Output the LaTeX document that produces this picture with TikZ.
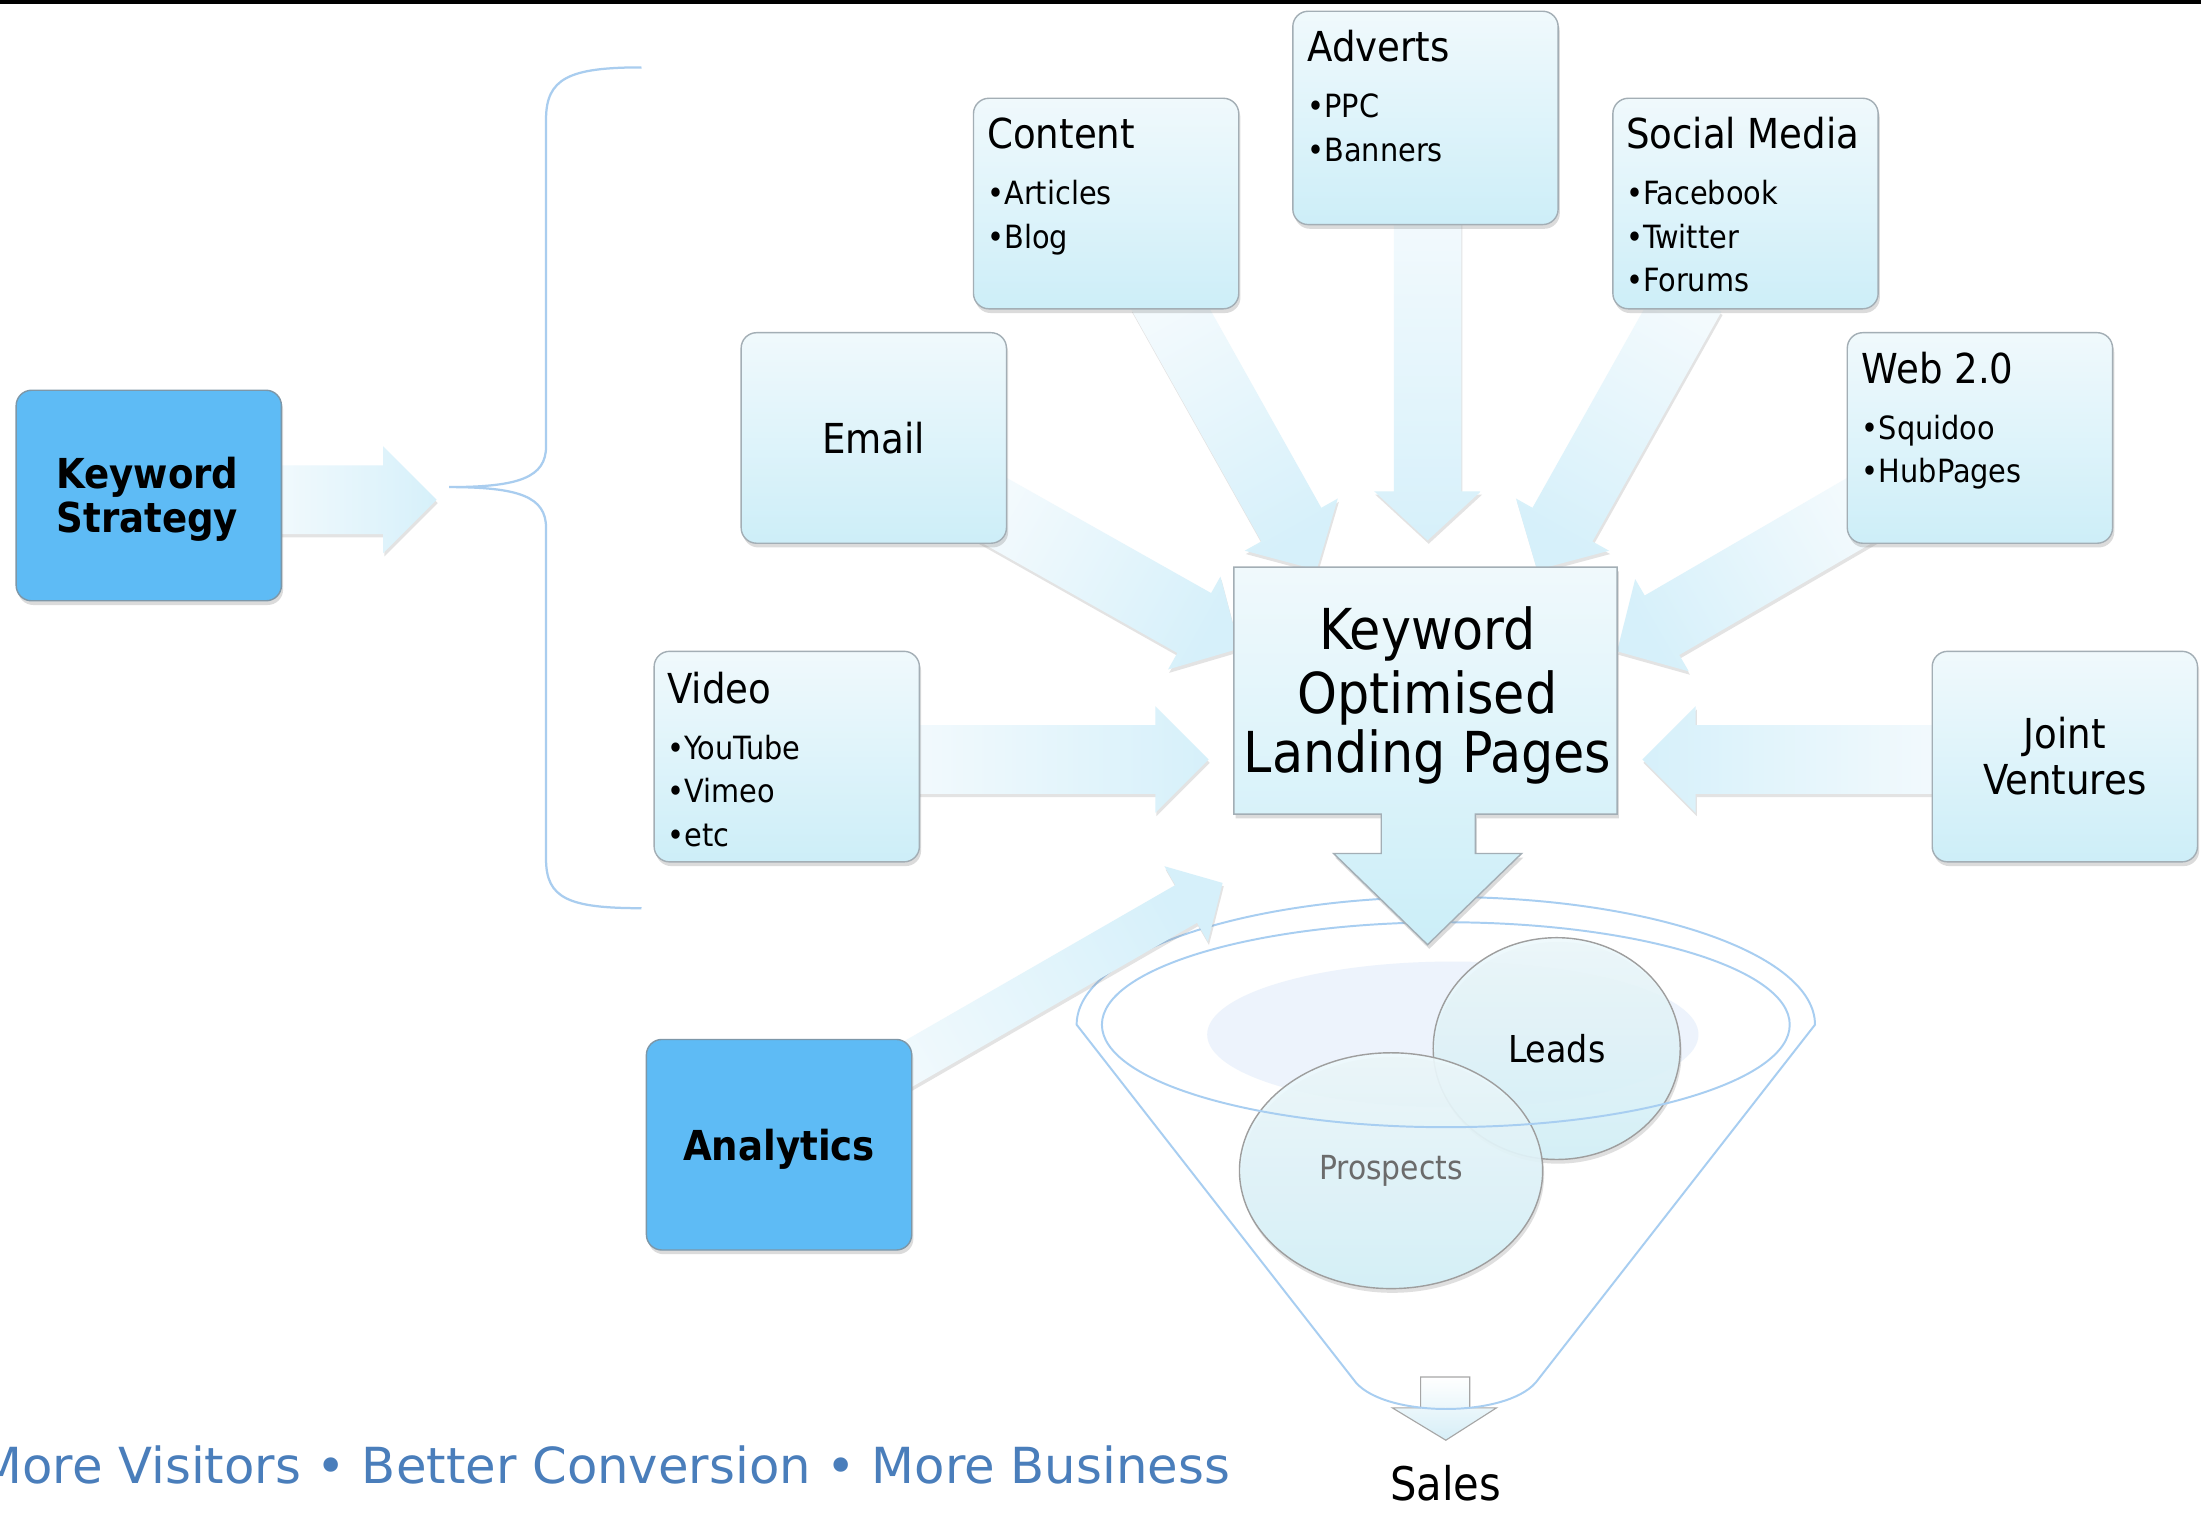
\documentclass[tikz,border=0pt]{standalone}
\usepackage{fontspec}
\usetikzlibrary{calc,shadows,shapes.geometric}
\IfFontExistsTF{DejaVu Sans Condensed}{\newfontfamily\condf{DejaVu Sans Condensed}}{\newfontfamily\condf{DejaVu Sans}[FakeStretch=0.9]}
\newfontfamily\verdf{DejaVu Sans}
\definecolor{boxtop}{HTML}{F0F9FC}
\definecolor{boxbot}{HTML}{CDEEF8}
\definecolor{calbot}{HTML}{CBEEF8}
\definecolor{boxline}{HTML}{A3AEB5}
\definecolor{bluefill}{HTML}{5EBBF5}
\definecolor{blueline}{HTML}{7D97A8}
\definecolor{arrtail}{HTML}{F3FAFD}
\definecolor{arrhead}{HTML}{D6F0FA}
\definecolor{rim}{HTML}{A8CEF1}
\definecolor{bracec}{HTML}{A9CDEF}
\definecolor{footblue}{HTML}{4A7EBB}
\definecolor{blobc}{HTML}{EDF3FC}
\definecolor{bubtop}{HTML}{EEF9FC}
\definecolor{bubbot}{HTML}{D4F1F9}
\definecolor{smallbot}{HTML}{D6EEF7}
\newcommand\blockarrow[5]{%
  \pgfmathanglebetweenpoints{\pgfpointanchor{#1}{center}}{\pgfpointanchor{#2}{center}}%
  \pgfmathsetmacro\baang{\pgfmathresult+90}%
  \coordinate (bab) at ($(#2)!#5!(#1)$);
  \path[blockarr, shading angle=\baang]
    ($(#1)!#3!90:(#2)$) -- ($(bab)!#3!90:(#2)$) -- ($(bab)!#4!90:(#2)$) -- (#2)
    -- ($(bab)!#4!-90:(#2)$) -- ($(bab)!#3!-90:(#2)$) -- ($(#1)!#3!-90:(#2)$) -- cycle;
}
\begin{document}
\begin{tikzpicture}[x=0.5pt,y=-0.5pt,
  lbox/.style={rectangle, rounded corners=5.5pt, draw=boxline, line width=0.5pt,
    top color=boxtop, bottom color=boxbot, minimum width=94.5pt, minimum height=75pt,
    inner sep=0pt, drop shadow={shadow xshift=0.6pt, shadow yshift=-1.5pt, opacity=0.28}},
  bluebox/.style={lbox, top color=bluefill, bottom color=bluefill, draw=blueline},
  blockarr/.style={top color=arrtail, bottom color=arrhead,
    drop shadow={shadow xshift=0.4pt, shadow yshift=-1.2pt, opacity=0.22}},
  ttl/.style={inner sep=0pt, font=\condf\fontsize{14.7}{17}\selectfont},
  bul/.style={inner sep=0pt, anchor=base west, font=\condf\fontsize{11.4}{13}\selectfont},
  boldt/.style={inner sep=0pt, anchor=base, font=\condf\bfseries\fontsize{14.7}{16}\selectfont},
  bigt/.style={inner sep=0pt, anchor=base, font=\condf\fontsize{20.1}{22}\selectfont},
  rimline/.style={draw=rim, line width=0.7pt},
  bubble/.style={ellipse, draw=black!38, line width=0.5pt, top color=bubtop, bottom color=bubbot,
    fill opacity=0.9, text opacity=1, inner sep=0pt,
    drop shadow={shadow xshift=0.5pt, shadow yshift=-1.5pt, opacity=0.25}}
]
\useasboundingbox (0,0) rectangle (1568,1079.27);
\fill[white] (0,0) rectangle (1568,1079.27);
\fill[black] (0,0) rectangle (1568,3);

% ---------- funnel ----------
\fill[blobc] (1035,737) ellipse[x radius=175, y radius=52];
\path[top color=white, bottom color=smallbot, draw=black!35, line width=0.4pt]
  (1012,981) -- (1047,981) -- (1047,1003) -- (1066,1003) -- (1030,1026) -- (992,1003) -- (1012,1003) -- cycle;
\node[bubble, minimum width=88pt, minimum height=79pt, font=\condf\fontsize{13.2}{15}\selectfont] (leads) at (1109,747) {Leads};
\node[bubble, minimum width=108pt, minimum height=84pt, text=black!58, font=\condf\fontsize{11.8}{14}\selectfont] (prospects) at (991,834) {Prospects};
\draw[rimline] (1030,730) ellipse[x radius=245, y radius=73];
\draw[rimline] (1293,730) arc[start angle=0, end angle=-180, x radius=263, y radius=91]
  -- (966,985) .. controls (988,1010) and (1072,1010) .. (1094,985) -- cycle;

% ---------- brace ----------
\draw[draw=bracec, line width=0.8pt]
  (457,48) .. controls (405,48) and (389,56) .. (389,85) -- (389,318)
  .. controls (389,340) and (370,347) .. (320,347)
  .. controls (370,347) and (389,354) .. (389,376) -- (389,612)
  .. controls (389,640) and (405,647) .. (457,647);

% ---------- arrow end points ----------
\coordinate (ksT) at (190,356);   \coordinate (ksH) at (311,356);
\coordinate (conT) at (827,208);  \coordinate (conH) at (938,406);
\coordinate (advT) at (1017,150); \coordinate (advH) at (1017,385);
\coordinate (socT) at (1205,210); \coordinate (socH) at (1095,406);
\coordinate (emT) at (702,360);   \coordinate (emH) at (883,462);
\coordinate (webT) at (1331,360); \coordinate (webH) at (1152,464);
\coordinate (vidT) at (645,541);  \coordinate (vidH) at (861,541);
\coordinate (jvT) at (1387,541);  \coordinate (jvH) at (1170,541);
\coordinate (anT) at (600,785);   \coordinate (anH) at (871,629);

\blockarrow{ksT}{ksH}{12.25pt}{19pt}{19pt}
\blockarrow{conT}{conH}{12.25pt}{19pt}{18.5pt}
\blockarrow{advT}{advH}{12pt}{19pt}{17.5pt}
\blockarrow{socT}{socH}{12.25pt}{19pt}{18.5pt}
\blockarrow{emT}{emH}{12.25pt}{19pt}{18.5pt}
\blockarrow{webT}{webH}{12.25pt}{19pt}{18.5pt}
\blockarrow{vidT}{vidH}{12.25pt}{19pt}{19pt}
\blockarrow{jvT}{jvH}{12.25pt}{19pt}{19pt}
\blockarrow{anT}{anH}{7.75pt}{15.5pt}{15pt}

% ---------- boxes ----------
\node[lbox] (content) at (788,145) {};
\node[lbox, minimum height=76pt] (adverts) at (1015.5,84) {};
\node[lbox] (social) at (1243.5,145) {};
\node[lbox] (email) at (622.5,312) {};
\node[lbox] (web) at (1410.5,312) {};
\node[lbox] (video) at (560.5,539) {};
\node[lbox] (jv) at (1471,539) {};
\node[bluebox] (ks) at (106,353) {};
\node[bluebox] (ana) at (555,815.5) {};

% ---------- central callout ----------
\path[top color=boxtop, bottom color=calbot, draw=boxline, line width=0.5pt,
  drop shadow={shadow xshift=0.6pt, shadow yshift=-1.5pt, opacity=0.28}]
  (879,404) -- (1152,404) -- (1152,580) -- (1051,580) -- (1051,608) -- (1084,608)
  -- (1017,673) -- (950,608) -- (984,608) -- (984,580) -- (879,580) -- cycle;
\coordinate (kolp) at (1017,490);

% ---------- texts ----------
\node[ttl, anchor=base west] (content-t) at (703,106) {Content};
\node[bul] (content-1) at (703,146) {•Articles};
\node[bul] (content-2) at (703,177) {•Blog};

\node[ttl, anchor=base west] (adverts-t) at (931,44) {Adverts};
\node[bul] (adverts-1) at (931,84) {•PPC};
\node[bul] (adverts-2) at (931,115) {•Banners};

\node[ttl, anchor=base west] (social-t) at (1158,106) {Social Media};
\node[bul] (social-1) at (1158,146) {•Facebook};
\node[bul] (social-2) at (1158,177) {•Twitter};
\node[bul] (social-3) at (1158,208) {•Forums};

\node[ttl, anchor=base west] (web-t) at (1326,273) {Web 2.0};
\node[bul] (web-1) at (1326,313) {•Squidoo};
\node[bul] (web-2) at (1326,344) {•HubPages};

\node[ttl, anchor=base west] (video-t) at (475,501) {Video};
\node[bul] (video-1) at (475,541) {•YouTube};
\node[bul] (video-2) at (475,572) {•Vimeo};
\node[bul] (video-3) at (475,603) {•etc};

\node[ttl, anchor=base] (email-t) at (622.5,323) {Email};
\node[ttl, anchor=base] (jv-1) at (1471,533) {Joint};
\node[ttl, anchor=base] (jv-2) at (1471,566) {Ventures};

\node[boldt] (ks-1) at (105,348) {Keyword};
\node[boldt] (ks-2) at (105,379) {Strategy};
\node[boldt] (ana-t) at (555,827) {Analytics};

\node[bigt] (kolp-1) at (1017,463) {Keyword};
\node[bigt] (kolp-2) at (1017,508) {Optimised};
\node[bigt] (kolp-3) at (1017,550) {Landing Pages};

\node[inner sep=0pt, anchor=base, font=\condf\fontsize{16.5}{18}\selectfont] (sales) at (1030,1069) {Sales};
\node[inner sep=0pt, anchor=base west, text=footblue, font=\verdf\fontsize{17.7}{20}\selectfont] (footer) at (-15,1057) {More Visitors • Better Conversion • More Business};
\end{tikzpicture}
\end{document}
